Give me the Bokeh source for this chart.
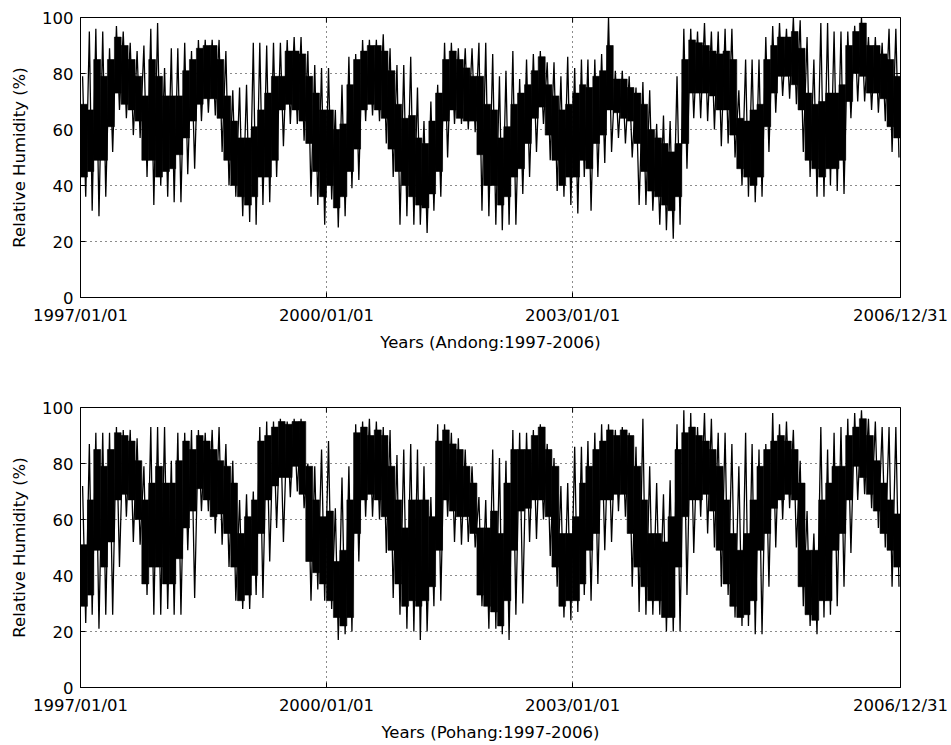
import numpy as np
import pandas as pd
from bokeh.plotting import figure
from bokeh.models import FixedTicker, Range1d
from bokeh.layouts import column
from bokeh.embed import file_html
from bokeh.resources import INLINE

# ---------------- data ----------------
start_date = "1997-01-01"
end_date = "2006-12-31"
n_months = 120
tick_dates = ["1997-01-01", "2000-01-01", "2003-01-01", "2006-12-31"]
tick_labels = ["1997/01/01", "2000/01/01", "2003/01/01", "2006/12/31"]
y_ticks = [0, 20, 40, 60, 80, 100]

# Monthly summaries (relative humidity, %)
# max = top of upward spikes, hi/lo = dense core band, min = bottom of downward spikes
andong_max = [79, 95, 96, 95, 89, 97, 95, 91, 88, 90, 96, 98,
              82, 89, 89, 91, 88, 92, 92, 92, 92, 88, 74, 75,
              76, 91, 91, 90, 91, 91, 92, 93, 93, 88, 83, 82,
              82, 67, 76, 86, 87, 92, 92, 92, 94, 89, 83, 83,
              86, 75, 63, 70, 76, 91, 91, 89, 89, 89, 91, 91,
              87, 79, 81, 88, 78, 85, 87, 88, 84, 84, 79, 86,
              82, 85, 85, 85, 87, 100, 81, 81, 79, 75, 77, 74,
              62, 65, 63, 79, 96, 96, 95, 98, 95, 95, 96, 96,
              74, 85, 85, 85, 93, 97, 98, 96, 100, 99, 93, 85,
              98, 98, 95, 95, 95, 97, 100, 93, 93, 91, 96, 96]
andong_hi = [69, 67, 85, 79, 85, 93, 90, 85, 79, 72, 85, 79,
             72, 72, 72, 81, 85, 89, 90, 90, 85, 72, 63, 57,
             57, 61, 67, 73, 79, 79, 88, 88, 87, 79, 73, 67,
             67, 60, 62, 76, 85, 88, 90, 90, 88, 81, 69, 64,
             65, 57, 55, 63, 73, 85, 88, 85, 82, 79, 79, 69,
             67, 57, 61, 69, 73, 76, 81, 86, 76, 72, 67, 69,
             73, 76, 75, 79, 81, 90, 78, 78, 75, 73, 69, 60,
             57, 55, 52, 55, 85, 92, 91, 90, 88, 87, 88, 85,
             64, 63, 67, 69, 85, 90, 93, 93, 95, 89, 73, 69,
             70, 73, 73, 76, 90, 95, 98, 90, 90, 87, 85, 79]
andong_lo = [43, 45, 49, 49, 61, 73, 69, 67, 63, 49, 49, 43,
             45, 46, 51, 57, 63, 69, 71, 71, 64, 49, 40, 36,
             33, 36, 43, 43, 49, 67, 69, 67, 63, 55, 45, 36,
             40, 32, 36, 45, 53, 67, 69, 67, 64, 53, 45, 40,
             36, 33, 32, 37, 45, 63, 67, 64, 63, 63, 51, 40,
             40, 33, 36, 43, 46, 55, 64, 68, 58, 49, 40, 43,
             43, 49, 46, 55, 58, 67, 66, 64, 63, 55, 45, 38,
             36, 33, 31, 36, 55, 73, 73, 73, 72, 67, 67, 58,
             46, 43, 40, 43, 61, 73, 79, 79, 76, 67, 49, 46,
             43, 46, 46, 49, 70, 80, 79, 73, 73, 71, 61, 57]
andong_min = [36, 31, 29, 36, 52, 67, 64, 58, 57, 43, 33, 40,
              36, 34, 34, 44, 46, 63, 66, 65, 52, 40, 36, 29,
              27, 26, 33, 34, 43, 54, 62, 62, 56, 36, 33, 26,
              35, 25, 29, 39, 42, 63, 65, 63, 55, 43, 26, 29,
              26, 26, 23, 31, 36, 50, 62, 62, 60, 59, 31, 29,
              26, 24, 26, 26, 37, 43, 52, 62, 49, 38, 36, 33,
              30, 43, 31, 43, 48, 52, 57, 55, 50, 33, 33, 31,
              26, 24, 21, 26, 46, 64, 64, 63, 60, 54, 55, 50,
              40, 36, 34, 36, 52, 66, 72, 71, 69, 52, 43, 36,
              36, 40, 38, 37, 64, 70, 70, 67, 66, 63, 52, 50]

pohang_max = [72, 87, 91, 91, 91, 93, 92, 92, 89, 79, 93, 93,
              93, 81, 91, 91, 92, 92, 91, 92, 93, 87, 81, 67,
              69, 70, 93, 95, 95, 96, 95, 96, 96, 80, 79, 85,
              88, 64, 75, 79, 94, 95, 96, 95, 93, 92, 83, 85,
              87, 85, 79, 68, 94, 94, 91, 89, 85, 79, 68, 67,
              85, 82, 81, 92, 91, 91, 92, 94, 87, 82, 72, 73,
              86, 86, 88, 91, 94, 94, 92, 93, 91, 86, 96, 79,
              73, 69, 74, 94, 99, 98, 93, 98, 96, 91, 91, 87,
              79, 91, 87, 85, 87, 98, 94, 95, 92, 81, 63, 55,
              93, 85, 91, 93, 96, 98, 99, 96, 95, 93, 93, 93]
pohang_hi = [51, 67, 85, 79, 85, 91, 90, 88, 81, 67, 73, 79,
             73, 73, 81, 88, 85, 90, 88, 85, 81, 79, 73, 55,
             61, 67, 88, 90, 93, 95, 94, 95, 95, 79, 67, 61,
             63, 45, 49, 67, 91, 93, 90, 92, 90, 79, 67, 57,
             67, 67, 67, 61, 88, 92, 87, 85, 79, 73, 57, 57,
             63, 55, 73, 85, 85, 85, 90, 93, 85, 79, 55, 55,
             61, 73, 79, 85, 88, 92, 90, 92, 90, 79, 67, 55,
             55, 52, 61, 85, 91, 93, 90, 88, 85, 79, 67, 55,
             49, 55, 67, 79, 85, 88, 90, 88, 85, 73, 49, 49,
             67, 73, 79, 79, 90, 93, 96, 90, 81, 73, 67, 62]
pohang_lo = [29, 33, 49, 43, 52, 67, 69, 67, 60, 37, 43, 43,
             37, 37, 46, 57, 63, 71, 67, 61, 62, 55, 43, 31,
             33, 40, 55, 67, 72, 75, 75, 79, 69, 45, 41, 37,
             31, 25, 22, 25, 55, 67, 69, 67, 61, 49, 37, 29,
             31, 29, 31, 36, 49, 67, 63, 61, 61, 55, 33, 29,
             27, 22, 31, 49, 63, 64, 67, 67, 61, 43, 29, 31,
             31, 37, 49, 55, 67, 67, 69, 69, 55, 43, 36, 31,
             31, 25, 25, 43, 61, 67, 67, 69, 63, 49, 37, 29,
             25, 26, 31, 49, 55, 64, 67, 69, 67, 36, 26, 24,
             31, 31, 49, 55, 67, 79, 75, 69, 63, 55, 49, 43]
pohang_min = [23, 26, 21, 26, 26, 43, 61, 52, 51, 33, 26, 26,
              28, 26, 26, 49, 32, 63, 63, 55, 51, 43, 31, 28,
              28, 33, 32, 45, 57, 52, 68, 70, 64, 31, 35, 31,
              28, 17, 19, 20, 45, 61, 61, 60, 48, 32, 26, 21,
              20, 17, 20, 29, 31, 61, 52, 51, 52, 50, 29, 21,
              21, 19, 17, 26, 30, 52, 53, 60, 47, 36, 25, 24,
              27, 33, 31, 37, 49, 52, 63, 61, 36, 27, 26, 26,
              26, 20, 20, 20, 33, 48, 61, 55, 50, 36, 33, 25,
              22, 22, 19, 19, 36, 50, 60, 64, 50, 29, 22, 19,
              25, 26, 29, 36, 48, 67, 69, 64, 57, 50, 36, 36]

# ---------------- layout helpers ----------------
t0 = pd.Timestamp(start_date)
months = pd.date_range(start_date, periods=n_months, freq="MS")
m_left = (months - t0).days.values.astype(float)
x_end = float((pd.Timestamp(end_date) - t0).days)
m_right = np.append(m_left[1:], x_end + 1.0)
m_len = m_right - m_left
up_x = m_left + 0.3 * m_len
down_x = m_left + 0.75 * m_len
x_tick_pos = [float((pd.Timestamp(d) - t0).days) for d in tick_dates]

FONT = "DejaVu Sans"
FS = "16.5px"


def make_panel(xlabel, vmax, vhi, vlo, vmin, height, bottom_border):
    p = figure(width=951, height=height, x_range=Range1d(0, x_end),
               y_range=Range1d(0, 100), output_backend="svg",
               toolbar_location=None, min_border_left=80, min_border_right=51,
               min_border_top=17, min_border_bottom=bottom_border)
    p.background_fill_color = "white"
    p.border_fill_color = "white"
    p.outline_line_color = "black"
    p.outline_line_width = 1
    p.outline_line_alpha = 1

    # dense core band, one block per month
    p.quad(left=m_left, right=m_right, bottom=vlo, top=vhi,
           fill_color="black", line_color="black", line_width=0.6)

    # the humidity trace: swings up to each month's high spike and down to its low spike
    zx = np.column_stack([up_x, down_x]).ravel()
    zy = np.column_stack([vmax, vmin]).ravel()
    p.line(x=zx, y=zy, line_color="black", line_width=1.3)

    # mirrored inward ticks on the top and right edges of the box
    p.scatter(x=x_tick_pos, y=[100] * len(x_tick_pos), marker="dash", angle=np.pi / 2,
              size=10, line_color="black", line_width=1)
    p.scatter(x=[x_end] * len(y_ticks), y=y_ticks, marker="dash",
              size=10, line_color="black", line_width=1)

    xt = FixedTicker(ticks=x_tick_pos)
    yt = FixedTicker(ticks=y_ticks)
    p.xaxis.ticker = xt
    p.yaxis.ticker = yt
    p.xaxis.major_label_overrides = {pos: lab for pos, lab in zip(x_tick_pos, tick_labels)}
    p.xaxis.axis_label = xlabel
    p.yaxis.axis_label = "Relative Humidity (%)"
    for ax in (p.xaxis[0], p.yaxis[0]):
        ax.axis_line_color = "black"
        ax.major_tick_line_color = "black"
        ax.major_tick_in = 5
        ax.major_tick_out = 0
        ax.minor_tick_line_color = None
        ax.major_label_text_font = FONT
        ax.major_label_text_font_size = FS
        ax.major_label_text_color = "black"
        ax.axis_label_text_font = FONT
        ax.axis_label_text_font_size = FS
        ax.axis_label_text_font_style = "normal"
        ax.axis_label_text_color = "black"
    p.xaxis.major_label_standoff = 8
    p.xaxis.axis_label_standoff = 5
    p.yaxis.major_label_standoff = 7
    p.yaxis.axis_label_standoff = 10

    p.xgrid.ticker = xt
    p.ygrid.ticker = yt
    for g in (p.xgrid[0], p.ygrid[0]):
        g.grid_line_color = "black"
        g.grid_line_dash = "1 4"
        g.grid_line_width = 1
        g.grid_line_alpha = 0.9
    return p


p1 = make_panel("Years (Andong:1997-2006)", andong_max, andong_hi, andong_lo, andong_min, 390, 93)
p2 = make_panel("Years (Pohang:1997-2006)", pohang_max, pohang_hi, pohang_lo, pohang_min, 355, 58)

layout = column(p1, p2, spacing=0)
open("out.html", "w").write(file_html(layout, INLINE))
